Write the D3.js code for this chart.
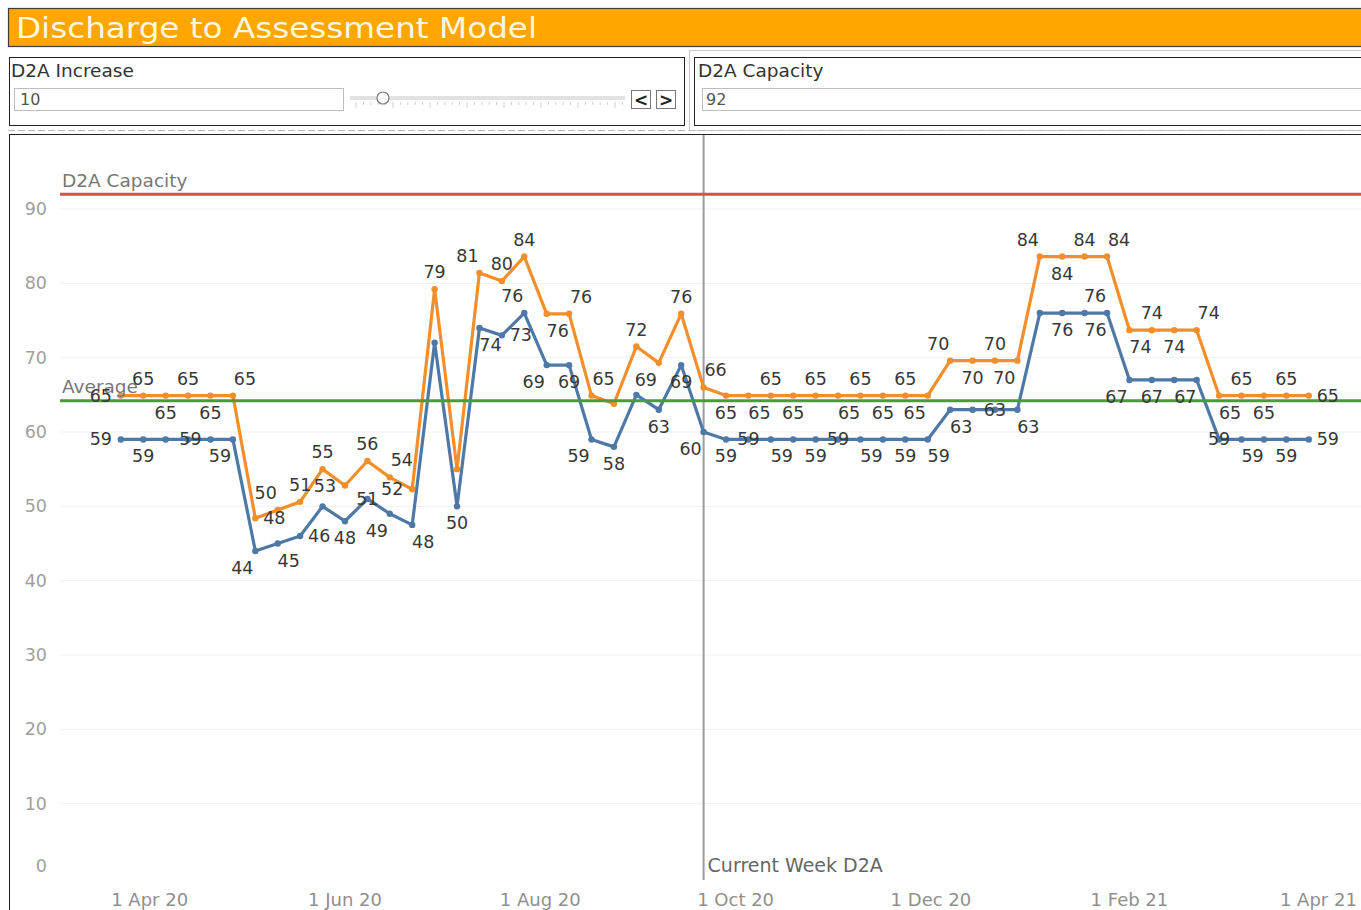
<!DOCTYPE html>
<html>
<head>
<meta charset="utf-8">
<script src="https://cdn.jsdelivr.net/npm/d3@7"></script>
<style>
  html, body { margin: 0; padding: 0; background: #fff; }
  svg { display: block; }
  text { font-family: "DejaVu Sans", "Open Sans", sans-serif; }
</style>
</head>
<body>
<svg id="chart" width="1361" height="910"></svg>
<script>
// ---------------- data ----------------
const weeks = [
  "2020-03-23","2020-03-30","2020-04-06","2020-04-13","2020-04-20","2020-04-27",
  "2020-05-04","2020-05-11","2020-05-18","2020-05-25","2020-06-01","2020-06-08",
  "2020-06-15","2020-06-22","2020-06-29","2020-07-06","2020-07-13","2020-07-20",
  "2020-07-27","2020-08-03","2020-08-10","2020-08-17","2020-08-24","2020-08-31",
  "2020-09-07","2020-09-14","2020-09-21","2020-09-28","2020-10-05","2020-10-12",
  "2020-10-19","2020-10-26","2020-11-02","2020-11-09","2020-11-16","2020-11-23",
  "2020-11-30","2020-12-07","2020-12-14","2020-12-21","2020-12-28","2021-01-04",
  "2021-01-11","2021-01-18","2021-01-25","2021-02-01","2021-02-08","2021-02-15",
  "2021-02-22","2021-03-01","2021-03-08","2021-03-15","2021-03-22","2021-03-29"
];
// current D2A (blue)
const currentD2A = [
  59,59,59,59,59,59, 44,45,46,50,48,51,49,47.5, 72,50,74,73,76,69,69,59,58,65,63,69,60,
  59,59,59,59,59,59,59,59,59,59, 63,63,63,63, 76,76,76,76, 67,67,67,67, 59,59,59,59,59
];
// D2A with increase (orange)
const increasedD2A = [
  64.9,64.9,64.9,64.9,64.9,64.9, 48.4,49.5,50.6,55,52.8,56.1,53.9,52.3,
  79.2,55,81.4,80.3,83.6,75.9,75.9,64.9,63.8,71.5,69.3,75.9,66,
  64.9,64.9,64.9,64.9,64.9,64.9,64.9,64.9,64.9,64.9, 69.6,69.6,69.6,69.6,
  83.6,83.6,83.6,83.6, 73.7,73.7,73.7,73.7, 64.9,64.9,64.9,64.9,64.9
];
// label placement (a above, b below, l left, r right, c centre, al/ar/bl/br shifted, - none)
const increasedLabelPos = ("l a b a b ar r al a a l a ar l a - al a a br ar ar - a bl a ar " +
  "b br a b a br a b a bl al b a bl al b a ar br a b ar br a b a r").split(" ");
const currentLabelPos = ("l b - - l bl bl br r - b c bl br - b br r al bl b bl b - b b bl " +
  "b c br - b c br - b br br - c br - b br al bl b br - c br - b r").split(" ");

const yTicks = [0,10,20,30,40,50,60,70,80,90];
const xTickDates = ["2020-04-01","2020-06-01","2020-08-01","2020-10-01","2020-12-01","2021-02-01","2021-04-01"];
const capacityValue = 92;
const averageValue = 64.2;
const currentWeek = "2020-09-21";
const d2aIncrease = "10";
const d2aCapacity = "92";
const titleText = "Discharge to Assessment Model";

// ---------------- drawing ----------------
const parse = d3.utcParse("%Y-%m-%d");
const svg = d3.select("#chart");

// title bar
svg.append("rect").attr("x", 8.5).attr("y", 8.5).attr("width", 1360).attr("height", 38)
  .attr("fill", "#FFA600").attr("stroke", "#4a3a2a").attr("stroke-width", 1.2);
svg.append("text").attr("x", 16).attr("y", 38).attr("fill", "#fff7dc")
  .attr("font-size", 29).attr("textLength", 521).attr("lengthAdjust", "spacingAndGlyphs").text(titleText);

// parameter panel 1
svg.append("rect").attr("x", 9.5).attr("y", 57.5).attr("width", 675).attr("height", 68)
  .attr("fill", "none").attr("stroke", "#222");
svg.append("text").attr("x", 11).attr("y", 77).attr("font-size", 18.5).attr("fill", "#333").text("D2A Increase");
svg.append("rect").attr("x", 14.5).attr("y", 88.5).attr("width", 329).attr("height", 22)
  .attr("fill", "#fff").attr("stroke", "#bdbdbd");
svg.append("text").attr("x", 20).attr("y", 105).attr("font-size", 16).attr("fill", "#555").text(d2aIncrease);
// slider
svg.append("rect").attr("x", 350).attr("y", 96).attr("width", 275).attr("height", 4).attr("fill", "#e2e2e2");
const sliderTicks = d3.range(0, 37);
svg.append("g").selectAll("line").data(sliderTicks).join("line")
  .attr("x1", d => 356 + d * 7.4).attr("x2", d => 356 + d * 7.4)
  .attr("y1", 102).attr("y2", d => d % 5 === 0 ? 108 : 105)
  .attr("stroke", "#cfcfcf").attr("stroke-width", 1);
svg.append("circle").attr("cx", 383).attr("cy", 98).attr("r", 6)
  .attr("fill", "#fff").attr("stroke", "#777").attr("stroke-width", 1.2);
[[631, "<"], [656, ">"]].forEach(([bx, ch]) => {
  svg.append("rect").attr("x", bx + 0.5).attr("y", 90.5).attr("width", 19).attr("height", 18)
    .attr("fill", "#fff").attr("stroke", "#777");
  svg.append("text").attr("x", bx + 10).attr("y", 106).attr("text-anchor", "middle")
    .attr("font-size", 17).attr("font-weight", "bold").attr("fill", "#222").text(ch);
});

// parameter panel 2
svg.append("rect").attr("x", 689.5).attr("y", 50.5).attr("width", 700).attr("height", 80)
  .attr("fill", "none").attr("stroke", "#c9c9c9");
svg.append("rect").attr("x", 694.5).attr("y", 57.5).attr("width", 700).attr("height", 68)
  .attr("fill", "none").attr("stroke", "#222");
svg.append("text").attr("x", 698).attr("y", 77).attr("font-size", 18.5).attr("fill", "#333").text("D2A Capacity");
svg.append("rect").attr("x", 702.5).attr("y", 88.5).attr("width", 700).attr("height", 22)
  .attr("fill", "#fff").attr("stroke", "#bdbdbd");
svg.append("text").attr("x", 706).attr("y", 105).attr("font-size", 16).attr("fill", "#555").text(d2aCapacity);

// dashed separator
svg.append("line").attr("x1", 8).attr("x2", 1361).attr("y1", 130.5).attr("y2", 130.5)
  .attr("stroke", "#bbb").attr("stroke-dasharray", "7,3");

// chart frame
svg.append("rect").attr("x", 9.5).attr("y", 134.5).attr("width", 1360).attr("height", 780)
  .attr("fill", "none").attr("stroke", "#222");

// scales
const x = d3.scaleUtc().domain([parse("2020-03-04"), parse("2021-04-14")]).range([60, 1360]);
const y = d3.scaleLinear().domain([0, 90]).range([878, 209]);

const plot = svg.append("g");
svg.append("defs").append("clipPath").attr("id", "clip")
  .append("rect").attr("x", 60).attr("y", 135).attr("width", 1301).attr("height", 760);

// gridlines
plot.append("g").selectAll("line").data(yTicks.filter(d => d > 0)).join("line")
  .attr("x1", 60).attr("x2", 1361).attr("y1", d => y(d)).attr("y2", d => y(d))
  .attr("stroke", "#efefef").attr("stroke-width", 1);

// y axis labels
plot.append("g").selectAll("text").data(yTicks).join("text")
  .attr("x", 47).attr("y", d => y(d) + (d === 0 ? -12 : 0))
  .attr("text-anchor", "end").attr("dominant-baseline", "central")
  .attr("font-size", 17.5).attr("fill", "#a0a0a0").text(d => d);

// x axis labels
const fmt = d3.utcFormat("%-d %b %y");
plot.append("g").selectAll("text").data(xTickDates.map(parse)).join("text")
  .attr("x", d => x(d)).attr("y", 899).attr("text-anchor", "middle").attr("dominant-baseline", "central")
  .attr("font-size", 18).attr("fill", "#8f8f8f").text(d => fmt(d));

// current week reference line
const cw = x(parse(currentWeek));
plot.append("line").attr("x1", cw).attr("x2", cw).attr("y1", 135).attr("y2", 880)
  .attr("stroke", "#9d9d9d").attr("stroke-width", 2);
plot.append("text").attr("x", cw + 4).attr("y", 865).attr("dominant-baseline", "central")
  .attr("font-size", 19).attr("fill", "#666").text("Current Week D2A");

// series
const series = [
  { values: currentD2A, color: "#4e79a7", pos: currentLabelPos },
  { values: increasedD2A, color: "#f28e2b", pos: increasedLabelPos }
];
const dates = weeks.map(parse);
const line = d3.line().x((d, i) => x(dates[i])).y(d => y(d));
const g = plot.append("g").attr("clip-path", "url(#clip)");
series.forEach(s => {
  g.append("path").datum(s.values).attr("d", line)
    .attr("fill", "none").attr("stroke", s.color).attr("stroke-width", 3.2)
    .attr("stroke-linejoin", "round");
  g.append("g").selectAll("circle").data(s.values).join("circle")
    .attr("cx", (d, i) => x(dates[i])).attr("cy", d => y(d)).attr("r", 3.2).attr("fill", s.color);
});

// reference lines
g.append("line").attr("x1", 60).attr("x2", 1361).attr("y1", y(capacityValue)).attr("y2", y(capacityValue))
  .attr("stroke", "#d6504e").attr("stroke-width", 3);
plot.append("text").attr("x", 62).attr("y", y(capacityValue) - 14).attr("dominant-baseline", "central")
  .attr("font-size", 18.5).attr("fill", "#777").text("D2A Capacity");
g.append("line").attr("x1", 60).attr("x2", 1361).attr("y1", y(averageValue)).attr("y2", y(averageValue))
  .attr("stroke", "#4c9a3c").attr("stroke-width", 3);
plot.append("text").attr("x", 62).attr("y", y(averageValue) - 14).attr("dominant-baseline", "central")
  .attr("font-size", 18.5).attr("fill", "#777").text("Average");

// data labels
const off = {
  a: [0, -17], b: [0, 17], l: [-20, 0], r: [19, 0], c: [0, 0],
  al: [-12, -17], ar: [12, -17], bl: [-13, 17], br: [11, 17]
};
series.forEach(s => {
  plot.append("g").selectAll("text")
    .data(s.values.map((v, i) => ({ v, i, p: s.pos[i] })).filter(d => d.p !== "-"))
    .join("text")
    .attr("x", d => x(dates[d.i]) + off[d.p][0])
    .attr("y", d => y(d.v) + off[d.p][1])
    .attr("text-anchor", "middle").attr("dominant-baseline", "central")
    .attr("font-size", 17.5).attr("fill", "#383838")
    .text(d => Math.round(d.v));
});
</script>
</body>
</html>
